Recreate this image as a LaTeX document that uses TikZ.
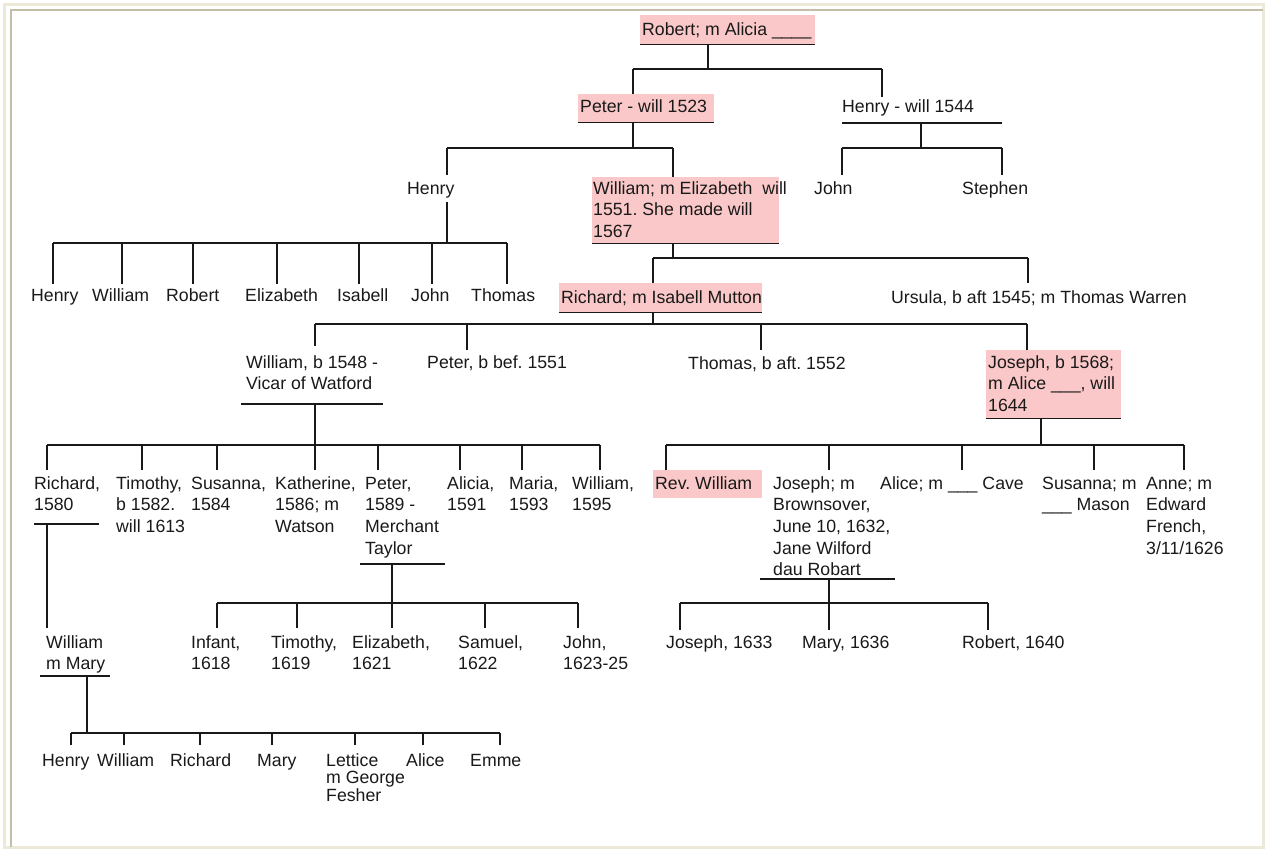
\documentclass[tikz,border=0pt]{standalone}
\usepackage{fontspec}
\setmainfont{Liberation Sans}
\frenchspacing
\definecolor{pinkfill}{RGB}{250,200,200}
\definecolor{frameout}{RGB}{236,233,216}
\definecolor{framein}{RGB}{196,190,168}
\definecolor{ink}{RGB}{25,25,25}
\newcommand{\ml}[1]{\begin{tabular}[t]{@{}l@{}}#1\end{tabular}}
\begin{document}
\begin{tikzpicture}[x=1pt,y=-1pt,
  conn/.style={draw=ink,line width=1.6pt},
  uline/.style={draw=ink,line width=1.6pt},
  lbl/.style={anchor=base west,inner sep=0,text=ink,font=\fontsize{17.7}{21.7}\selectfont\frenchspacing},
  lbltight/.style={anchor=base west,inner sep=0,text=ink,font=\fontsize{17.7}{16.5}\selectfont\frenchspacing},
  pinkbox/.style={fill=pinkfill,draw=none,anchor=north west,inner sep=0}]
\useasboundingbox (0,0) rectangle (1267,851);
% frame
\draw[frameout,line width=3pt] (4.5,4.5) rectangle (1263.5,847.5);
\draw[framein,line width=2pt] (10.5,847) -- (10.5,10.5) -- (1263,10.5);

% pink boxes
\node[pinkbox,minimum width=175,minimum height=29] (robBox) at (640,15) {};
\node[pinkbox,minimum width=136,minimum height=28] (petBox) at (578,94) {};
\node[pinkbox,minimum width=187,minimum height=66] (wilBox) at (592,177) {};
\node[pinkbox,minimum width=203,minimum height=29] (ricBox) at (559,283) {};
\node[pinkbox,minimum width=135,minimum height=68] (josBox) at (986,350) {};
\node[pinkbox,minimum width=109,minimum height=28] (revBox) at (653,470) {};

% texts
\node[lbl] (rob) at (642,35.5) {Robert; m Alicia \_\_\_\_};
\node[lbl] (pet) at (580,112.5) {Peter - will 1523};
\node[lbl] (henW) at (842,112) {Henry - will 1544};
\node[lbl] (johnA) at (814,194) {John};
\node[lbl] (steph) at (962,194) {Stephen};
\node[lbl] (hen) at (407,194) {Henry};
\node[lbl] (wil) at (593,194) {\ml{William; m Elizabeth~ will\\1551. She made will\\1567}};
\node[lbl] (hk1) at (31,301) {Henry};
\node[lbl] (hk2) at (92,301) {William};
\node[lbl] (hk3) at (166,301) {Robert};
\node[lbl] (hk4) at (245,301) {Elizabeth};
\node[lbl] (hk5) at (337,301) {Isabell};
\node[lbl] (hk6) at (411,301) {John};
\node[lbl] (hk7) at (471,301) {Thomas};
\node[lbl] (ric) at (561,303) {Richard; m Isabell Mutton};
\node[lbl] (urs) at (891,303) {Ursula, b aft 1545; m Thomas Warren};
\node[lbl] (wv) at (246,368) {\ml{William, b 1548 -\\Vicar of Watford}};
\node[lbl] (petB) at (427,368) {Peter, b bef. 1551};
\node[lbl] (thoB) at (688,369) {Thomas, b aft. 1552};
\node[lbl] (jos) at (988,368) {\ml{Joseph, b 1568;\\m Alice \_\_\_, will\\1644}};
% row 489
\node[lbl] (r80) at (34,489) {\ml{Richard,\\1580}};
\node[lbl] (tim) at (116,489) {\ml{Timothy,\\b 1582.\\will 1613}};
\node[lbl] (sus) at (191,489) {\ml{Susanna,\\1584}};
\node[lbl] (kat) at (275,489) {\ml{Katherine,\\1586; m\\Watson}};
\node[lbl] (p89) at (365,489) {\ml{Peter,\\1589 -\\Merchant\\Taylor}};
\node[lbl] (ali) at (447,489) {\ml{Alicia,\\1591}};
\node[lbl] (mar) at (509,489) {\ml{Maria,\\1593}};
\node[lbl] (w95) at (572,489) {\ml{William,\\1595}};
\node[lbl] (rev) at (655,489) {Rev. William};
\node[lbl] (josM) at (773,489) {\ml{Joseph; m\\Brownsover,\\June 10, 1632,\\Jane Wilford\\dau Robart}};
\node[lbl] (aliC) at (880,489) {Alice; m \_\_\_ Cave};
\node[lbl] (susM) at (1042,489) {\ml{Susanna; m\\\_\_\_ Mason}};
\node[lbl] (ann) at (1146,489) {\ml{Anne; m\\Edward\\French,\\3/11/1626}};
% row 648
\node[lbl] (wmm) at (46,648) {\ml{William\\m Mary}};
\node[lbl] (inf) at (191,648) {\ml{Infant,\\1618}};
\node[lbl] (t19) at (271,648) {\ml{Timothy,\\1619}};
\node[lbl] (e21) at (352,648) {\ml{Elizabeth,\\1621}};
\node[lbl] (s22) at (458,648) {\ml{Samuel,\\1622}};
\node[lbl] (j23) at (563,648) {\ml{John,\\1623-25}};
\node[lbl] (j33) at (666,648) {Joseph, 1633};
\node[lbl] (m36) at (802,648) {Mary, 1636};
\node[lbl] (r40) at (962,648) {Robert, 1640};
% row 766
\node[lbl] (g1) at (42,766) {Henry};
\node[lbl] (g2) at (97,766) {William};
\node[lbl] (g3) at (170,766) {Richard};
\node[lbl] (g4) at (257,766) {Mary};
\node[lbltight] (g5) at (326,766) {\ml{Lettice\\m George\\Fesher}};
\node[lbl] (g6) at (406,766) {Alice};
\node[lbl] (g7) at (470,766) {Emme};

% underlines
\draw[uline] (robBox.south west) -- (robBox.south east);
\draw[uline] (petBox.south west) -- (petBox.south east);
\draw[uline] (wilBox.south west) -- (wilBox.south east);
\draw[uline] (ricBox.south west) -- (ricBox.south east);
\draw[uline] (josBox.south west) -- (josBox.south east);
\coordinate (henWa) at (842,123); \coordinate (henWb) at (1002,123);
\draw[uline] (henWa) -- (henWb);
\coordinate (wva) at (241,404); \coordinate (wvb) at (383,404);
\draw[uline] (wva) -- (wvb);
\coordinate (r80a) at (34,524); \coordinate (r80b) at (99,524);
\draw[uline] (r80a) -- (r80b);
\coordinate (p89a) at (360,564); \coordinate (p89b) at (445,564);
\draw[uline] (p89a) -- (p89b);
\coordinate (wmma) at (40,676); \coordinate (wmmb) at (110,676);
\draw[uline] (wmma) -- (wmmb);
\coordinate (josMa) at (760,579); \coordinate (josMb) at (895,579);
\draw[uline] (josMa) -- (josMb);

% connectors: Robert
\coordinate (robD) at (708,44);
\draw[conn] (robD) -- (708,69);
\draw[conn] (633,69) -- (882,69);
\draw[conn] (633,69) -- (petBox.north -| 633,0);
\draw[conn] (882,69) -- (882,97);
% Peter
\coordinate (petD) at (633,122);
\draw[conn] (petD) -- (633,148);
\draw[conn] (447,148) -- (673,148);
\draw[conn] (447,148) -- (447,175);
\draw[conn] (673,148) -- (wilBox.north -| 673,0);
% Henry - will 1544
\draw[conn] (921,123) -- (921,148);
\draw[conn] (842,148) -- (1002,148);
\draw[conn] (842,148) -- (842,175);
\draw[conn] (1002,148) -- (1002,175);
% Henry
\draw[conn] (447,202) -- (447,243);
\draw[conn] (53,243) -- (507,243);
\foreach \xx in {53,122,193,277,359,432,507} {\draw[conn] (\xx,243) -- (\xx,284);}
% William
\draw[conn] (wilBox.south -| 673,0) -- (673,258);
\draw[conn] (653,258) -- (1028,258);
\draw[conn] (653,258) -- (ricBox.north -| 653,0);
\draw[conn] (1028,258) -- (1028,283);
% Richard
\draw[conn] (ricBox.south -| 653,0) -- (653,324);
\draw[conn] (315,324) -- (1027,324);
\draw[conn] (315,324) -- (315,346);
\draw[conn] (467,324) -- (467,350);
\draw[conn] (761,324) -- (761,350);
\draw[conn] (1027,324) -- (josBox.north -| 1027,0);
% William b 1548
\draw[conn] (315,404) -- (315,445);
\draw[conn] (47,445) -- (600,445);
\foreach \xx in {47,142,217,315,378,460,522,600} {\draw[conn] (\xx,445) -- (\xx,470);}
% Joseph b 1568
\draw[conn] (josBox.south -| 1041,0) -- (1041,445);
\draw[conn] (666,445) -- (1184,445);
\draw[conn] (666,445) -- (revBox.north -| 666,0);
\foreach \xx in {829,962,1094,1184} {\draw[conn] (\xx,445) -- (\xx,470);}
% Richard 1580
\draw[conn] (47,524) -- (47,628);
% Peter 1589
\draw[conn] (392,564) -- (392,603);
\draw[conn] (217,603) -- (578,603);
\foreach \xx in {217,297,392,485,578} {\draw[conn] (\xx,603) -- (\xx,628);}
% William m Mary
\draw[conn] (87,676) -- (87,733);
\draw[conn] (71,733) -- (500,733);
\foreach \xx in {71,124,200,272,355,423,500} {\draw[conn] (\xx,733) -- (\xx,745);}
% Joseph m Brownsover
\draw[conn] (829,579) -- (829,603);
\draw[conn] (680,603) -- (988,603);
\foreach \xx in {680,829,988} {\draw[conn] (\xx,603) -- (\xx,630);}
\end{tikzpicture}
\end{document}
